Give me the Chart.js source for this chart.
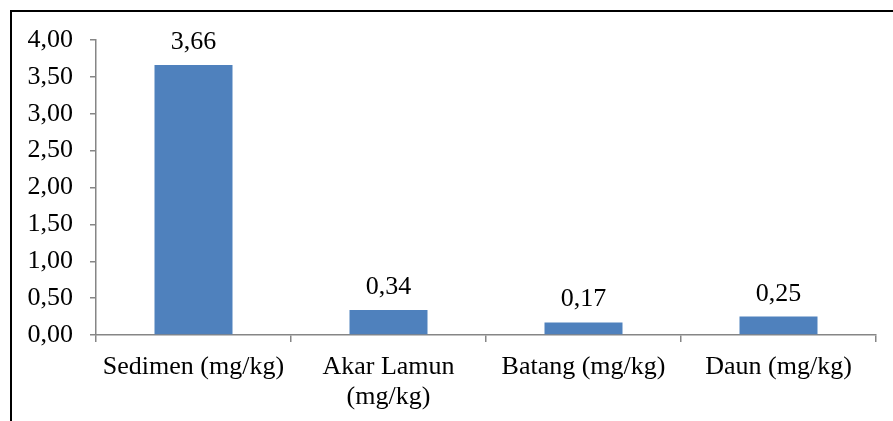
<!DOCTYPE html>
<html>
<head>
<meta charset="utf-8">
<script src="https://cdn.jsdelivr.net/npm/chart.js@4.4.1/dist/chart.umd.min.js"></script>
<style>
  html, body { margin: 0; padding: 0; background: #fff; }
  #wrap { width: 893px; height: 421px; position: relative; }
</style>
</head>
<body>
<div id="wrap"><canvas id="c" width="893" height="421"></canvas></div>
<script>
const categories = [["Sedimen (mg/kg)"], ["Akar Lamun", "(mg/kg)"], ["Batang (mg/kg)"], ["Daun (mg/kg)"]];
const values = [3.66, 0.34, 0.17, 0.25];
const yTicks = [0, 0.5, 1, 1.5, 2, 2.5, 3, 3.5, 4];

const FONT = '"Liberation Serif", "Times New Roman", serif';
const fmt = v => v.toFixed(2).replace('.', ',');

const framePlugin = {
  id: 'frame',
  beforeDraw(chart) {
    const ctx = chart.ctx;
    ctx.save();
    ctx.fillStyle = '#ffffff';
    ctx.fillRect(0, 0, chart.width, chart.height);
    ctx.fillStyle = '#000000';
    ctx.fillRect(10, 10, chart.width - 10, 2);
    ctx.fillRect(10, 10, 2, chart.height - 10);
    ctx.restore();
  }
};

const labelPlugin = {
  id: 'valueLabels',
  afterDatasetsDraw(chart) {
    const ctx = chart.ctx;
    const meta = chart.getDatasetMeta(0);
    ctx.save();
    ctx.font = '26px ' + FONT;
    ctx.fillStyle = '#000000';
    ctx.textAlign = 'center';
    ctx.textBaseline = 'alphabetic';
    meta.data.forEach((bar, i) => {
      ctx.fillText(fmt(values[i]), bar.x, bar.y - 16);
    });
    ctx.restore();
  }
};

new Chart(document.getElementById('c'), {
  type: 'bar',
  data: {
    labels: categories,
    datasets: [{
      data: values,
      backgroundColor: '#4F81BD',
      borderWidth: 0,
      barPercentage: 0.4,
      categoryPercentage: 1
    }]
  },
  options: {
    responsive: false,
    animation: false,
    devicePixelRatio: 1,
    layout: { padding: { left: 0, right: 17, top: 40, bottom: 0 } },
    plugins: { legend: { display: false }, tooltip: { enabled: false } },
    scales: {
      x: {
        grid: { display: true, drawOnChartArea: false, drawTicks: true, tickLength: 7, color: '#868686', lineWidth: 1.5, offset: true },
        border: { display: true, color: '#868686', width: 1.5 },
        ticks: { color: '#000', font: { family: FONT, size: 26, lineHeight: 1.17 }, padding: 10, maxRotation: 0, autoSkip: false },
        afterFit(scale) { scale.height = 86; }
      },
      y: {
        min: 0, max: 4,
        afterBuildTicks(scale) { scale.ticks = yTicks.map(v => ({ value: v })); },
        grid: { display: true, drawOnChartArea: false, drawTicks: true, tickLength: 6, color: '#868686', lineWidth: 1.5 },
        border: { display: true, color: '#868686', width: 1.5 },
        ticks: { color: '#000', font: { family: FONT, size: 26 }, padding: 17, callback: v => fmt(v) },
        afterFit(scale) { scale.width = 96; }
      }
    }
  },
  plugins: [framePlugin, labelPlugin]
});
</script>
</body>
</html>
